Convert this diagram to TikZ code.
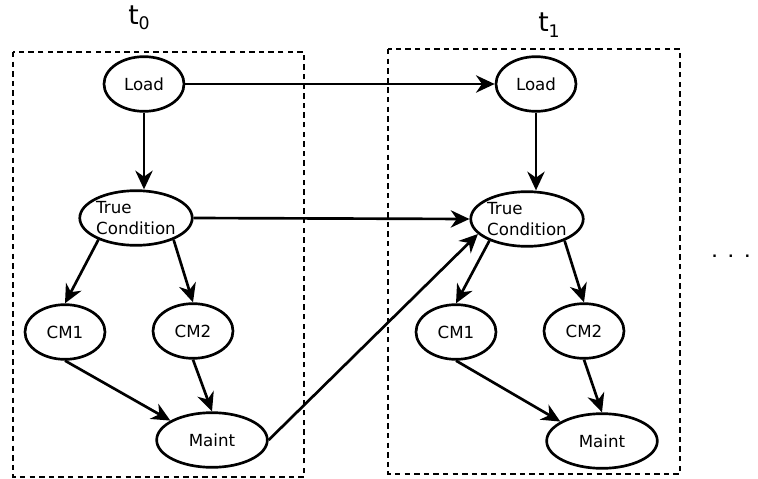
\documentclass[tikz,border=0pt]{standalone}
\usepackage{fontspec}
\setmainfont{DejaVu Sans}
\usepackage{tikz}
\usetikzlibrary{shapes.geometric, arrows.meta}
\tikzset{
  varnode/.style={ellipse, draw=black, line width=2pt, inner sep=0pt,
    minimum width=60pt, minimum height=41pt, font=\fontsize{12.5}{15.5}\selectfont},
  widenode/.style={varnode, minimum width=83pt},
  arrow/.style={-{Stealth[length=14pt, width=13pt, inset=4.5pt]}, line width=2pt},
  slice/.style={draw, line width=2.1pt, dash pattern=on 4pt off 3.2pt},
  tlabel/.style={font=\fontsize{20}{22}\selectfont}
}
\newcommand{\tstep}[1]{t\raisebox{-4pt}{\fontsize{13}{15}\selectfont #1}}

\begin{document}
\begin{tikzpicture}[x=0.75pt, y=-0.75pt]
  \useasboundingbox (0,0) rectangle (758,479);

  % time slices
  \draw [slice] (13,52) rectangle (304,477);
  \draw [slice] (388,49) rectangle (680,474);
  \node [tlabel] (t0) at (139,18) {\tstep{0}};
  \node [tlabel] (t1) at (549,25) {\tstep{1}};

  % slice t0
  \node [varnode] (loada) at (144,84) {Load};
  \node [widenode, align=left] (tca) at (136,218) {True\\Condition};
  \node [varnode] (cm1a) at (65,332) {CM1};
  \node [varnode] (cm2a) at (193,331) {CM2};
  \node [widenode] (mainta) at (212,440) {Maint};

  % slice t1
  \node [varnode] (loadb) at (536,84) {Load};
  \node [widenode, align=left] (tcb) at (527,219) {True\\Condition};
  \node [varnode] (cm1b) at (456,332) {CM1};
  \node [varnode] (cm2b) at (584,331) {CM2};
  \node [widenode] (maintb) at (602,441) {\raisebox{-4pt}{Maint}};

  \node [font=\fontsize{10}{12}\selectfont\bfseries] (more) at (731,256) {.\hspace{8.5pt}.\hspace{8.5pt}.};

  \draw [arrow] (loada) -- (loada |- tca.north);
  \draw [arrow] (tca.-150) -- (cm1a.north);
  \draw [arrow] (tca.-30) -- (cm2a.north);
  \draw [arrow] (cm1a.south) -- (mainta.155);
  \draw [arrow] (cm2a.south) -- (mainta.north);

  \draw [arrow] (loadb) -- (loadb |- tcb.north);
  \draw [arrow] (tcb.-150) -- (cm1b.north);
  \draw [arrow] (tcb.-30) -- (cm2b.north);
  \draw [arrow] (cm1b.south) -- (maintb.155);
  \draw [arrow] (cm2b.south) -- (maintb.north);

  % between slices
  \draw [arrow] (loada.east) -- (loadb.west);
  \draw [arrow] (tca.east) -- (tcb.west);
  \draw [arrow] (mainta.east) -- (tcb.197);
\end{tikzpicture}
\end{document}
